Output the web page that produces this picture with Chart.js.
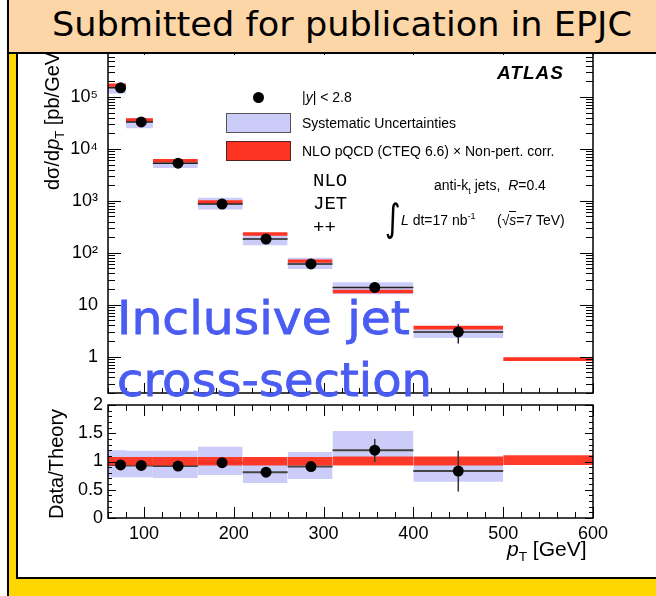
<!DOCTYPE html>
<html>
<head>
<meta charset="utf-8">
<script src="https://cdn.jsdelivr.net/npm/chart.js@4.4.0/dist/chart.umd.min.js"></script>
<style>
  html, body { margin: 0; padding: 0; }
  body { width: 656px; height: 596px; overflow: hidden; background: #ffd600;
         font-family: 'Liberation Sans', Arial, sans-serif; color: #000; }
  #page { position: relative; width: 656px; height: 596px; overflow: hidden; }
  #edge { position: absolute; left: 0; top: 0; width: 7px; height: 596px; background: #fff;
          border-right: 2px solid #000; }
  #panel { position: absolute; left: 16px; top: 48px; width: 660px; height: 527px;
           background: #fff; border: 2px solid #000; }
  #header { position: absolute; left: 7px; top: -2px; width: 660px; height: 52px;
            background: #fdd6a8; border: 2px solid #000; z-index: 5; }
  #header span { position: absolute; left: 43px; top: 4px; font-size: 34px; white-space: nowrap;
                 font-family: 'Comic Sans MS', 'DejaVu Sans', sans-serif; transform-origin: left center; }
  canvas { position: absolute; left: 0; z-index: 1; }
  #mainPlot { top: 0; }
  #ratioPlot { top: 396px; }
  .t { position: absolute; white-space: nowrap; z-index: 3; line-height: 1; }
  .t sub, .t sup { font-size: 65%; line-height: 0; }
  .leg { font-size: 14px; }
  .box { position: absolute; box-sizing: border-box; width: 65px; height: 20px; z-index: 3; }
  .dot { position: absolute; width: 11px; height: 11px; border-radius: 50%; background: #000; z-index: 3; }
  .mono { font-family: 'Liberation Mono', 'DejaVu Sans Mono', monospace; font-size: 19px; }
  .rot { position: absolute; left: 0; top: 0; white-space: nowrap; font-size: 20px; line-height: 1;
         transform-origin: 0 0; z-index: 3; }
  .blue { position: absolute; white-space: nowrap; z-index: 6; color: #4a5cf2; font-size: 46px;
          line-height: 1; font-family: 'Comic Sans MS', 'DejaVu Sans', sans-serif; transform-origin: left center;
          -webkit-text-stroke: 0.8px #4a5cf2; }
</style>
</head>
<body>
<div id="page">
  <div id="edge"></div>
  <div id="panel"></div>
  <div id="header"><span id="headText">Submitted for publication in EPJC</span></div>

  <canvas id="mainPlot" width="656" height="400"></canvas>
  <canvas id="ratioPlot" width="656" height="150"></canvas>

  <!-- legend -->
  <div class="dot" style="left:253px; top:92px;"></div>
  <div class="t leg" style="left:302px; top:90px;">|<i>y</i>| &lt; 2.8</div>
  <div class="box" style="left:226px; top:113px; background:#ccccf8; border:1px solid #555;"></div>
  <div class="t leg" style="left:302px; top:116px;">Systematic Uncertainties</div>
  <div class="box" style="left:226px; top:141px; background:#ff3322; border:1px solid #552222;"></div>
  <div class="t leg" style="left:302px; top:144px;">NLO pQCD (CTEQ 6.6) &times; Non-pert. corr.</div>

  <div class="t" style="left:497px; top:63px; font-size:19px; font-weight:bold; font-style:italic; letter-spacing:1px;">ATLAS</div>
  <div class="t mono" style="left:313px; top:172px;">NLO</div>
  <div class="t mono" style="left:313px; top:195px;">JET</div>
  <div class="t mono" style="left:313px; top:219px;">++</div>
  <div class="t leg" style="left:434px; top:178px;">anti-k<sub>t</sub> jets,&nbsp; <i>R</i>=0.4</div>
  <div class="t" style="left:383px; top:199px; font-size:38px; font-family:'DejaVu Sans', sans-serif; transform:scaleX(0.8);">&int;</div>
  <div class="t leg" style="left:401px; top:213px;"><i>L</i> dt=17 nb<sup>-1</sup></div>
  <div class="t leg" style="left:497px; top:213px;">(&radic;<i style="border-top:1px solid #000;">s</i>=7 TeV)</div>

  <!-- axis titles -->
  <div class="rot" style="transform: translate(42px, 190px) rotate(-90deg);">d&sigma;/d<i>p</i><sub style="font-size:65%;">T</sub> [pb/GeV]</div>
  <div class="rot" style="transform: translate(46px, 519px) rotate(-90deg);">Data/Theory</div>
  <div class="t" style="left:507px; top:538px; font-size:21px;"><i>p</i><sub>T</sub> [GeV]</div>

  <div class="blue" id="blue1" style="left:117px; top:295px;">Inclusive jet</div>
  <div class="blue" id="blue2" style="left:117px; top:357px;">cross-section</div>
</div>

<script>
// ── bins and measured values ──────────────────────────────────────────────────
const binEdges   = [60, 80, 110, 160, 210, 260, 310, 400, 500, 600];
const ptCentres  = [74, 97, 138, 187, 236, 286, 357, 450];

// dσ/dpT [pb/GeV]
const xsecData   = [1.5e5, 3.3e4, 5.3e3, 870, 184, 61, 21.5, 3.0];
const xsecStatHi = [1.56e5, 3.4e4, 5.45e3, 900, 192, 66, 25, 4.2];
const xsecStatLo = [1.44e5, 3.2e4, 5.15e3, 840, 176, 56, 18, 1.8];
const xsecSysHi  = [1.8e5, 3.9e4, 6.3e3, 1150, 240, 80, 27, 3.8];
const xsecSysLo  = [1.16e5, 2.5e4, 4.3e3, 680, 140, 49, 16, 2.3];
const nloXsec    = [1.68e5, 3.6e4, 5.9e3, 950, 229, 69, 17.8, 3.6, 0.88];

// data / theory
const ratioData   = [0.94, 0.93, 0.92, 0.98, 0.81, 0.91, 1.2, 0.83];
const ratioStatHi = [0.97, 0.96, 0.95, 1.01, 0.85, 0.98, 1.4, 1.19];
const ratioStatLo = [0.91, 0.90, 0.89, 0.95, 0.77, 0.84, 0.99, 0.47];
const ratioSysHi  = [1.2, 1.19, 1.19, 1.26, 1.07, 1.17, 1.54, 1.07];
const ratioSysLo  = [0.72, 0.72, 0.71, 0.76, 0.62, 0.69, 0.95, 0.64];
const nloBandHi   = [1.08, 1.08, 1.08, 1.08, 1.08, 1.08, 1.09, 1.09, 1.11];
const nloBandLo   = [0.93, 0.93, 0.93, 0.93, 0.93, 0.93, 0.93, 0.93, 0.94];

// tick labels
const logTickValues  = [1, 10, 100, 1e3, 1e4, 1e5];
const logTickLabels  = ['1', '10', '10²', '10³', '10⁴', '10⁵'];
const ratioTickValues = [0, 0.5, 1, 1.5, 2];
const ratioTickLabels = ['0', '0.5', '1', '1.5', '2'];
const ptTickValues   = [100, 200, 300, 400, 500, 600];
const ptTickLabels   = ['100', '200', '300', '400', '500', '600'];

const SYS_COLOR = '#ccccf8';
const NLO_COLOR = '#ff3322';

Chart.defaults.font.family = "'Liberation Sans', Arial, sans-serif";
Chart.defaults.color = '#000';

// ── helpers ───────────────────────────────────────────────────────────────────
// one filled box per bin, from lo to hi
function binBoxes(hi, lo, color, order) {
    return hi.map((h, i) => ({
        data: [{ x: binEdges[i], y: h }, { x: binEdges[i + 1], y: h }],
        fill: { value: lo[i] },
        backgroundColor: color,
        borderColor: 'rgba(0,0,0,0)',
        borderWidth: 0,
        pointRadius: 0,
        order
    }));
}

// horizontal bars across each bin, split by gaps
function binLines(values) {
    const pts = [];
    values.forEach((v, i) => {
        pts.push({ x: binEdges[i], y: v }, { x: binEdges[i + 1], y: v }, { x: binEdges[i + 1], y: null });
    });
    return pts;
}

// vertical error bars at the bin centres
function errLines(lo, hi) {
    const pts = [];
    ptCentres.forEach((x, i) => {
        pts.push({ x, y: lo[i] }, { x, y: hi[i] }, { x, y: null });
    });
    return pts;
}

function markers(values) {
    return values.map((v, i) => ({ x: ptCentres[i], y: v }));
}

// ROOT-like frame with inward ticks on all four sides
const frameTicks = {
    id: 'frameTicks',
    afterDraw(chart, args, o) {
        const { ctx, chartArea: a } = chart;
        const xs = chart.scales.x, ys = chart.scales.y;
        ctx.save();
        ctx.strokeStyle = '#000';
        ctx.lineWidth = 1;
        ctx.beginPath();
        const xt = (v, len) => {
            const p = Math.round(xs.getPixelForValue(v)) + 0.5;
            ctx.moveTo(p, a.bottom); ctx.lineTo(p, a.bottom - len);
            ctx.moveTo(p, a.top);    ctx.lineTo(p, a.top + len);
        };
        const yt = (v, len) => {
            const p = Math.round(ys.getPixelForValue(v)) + 0.5;
            ctx.moveTo(a.left, p);  ctx.lineTo(a.left + len, p);
            ctx.moveTo(a.right, p); ctx.lineTo(a.right - len, p);
        };
        o.xMinor.forEach(v => xt(v, o.xMinorLen));
        o.xMajor.forEach(v => xt(v, o.xMajorLen));
        o.yMinor.forEach(v => yt(v, o.yMinorLen));
        o.yMajor.forEach(v => yt(v, o.yMajorLen));
        ctx.stroke();
        ctx.lineWidth = 1.5;
        ctx.strokeRect(a.left, a.top, a.right - a.left, a.bottom - a.top);
        ctx.restore();
    }
};

// fixed-width y axis that asks for no extra room above or below
function fixedYAxis(s) {
    s.width = 108;
    s.paddingTop = 0;
    s.paddingBottom = 0;
}

// nudge the layout padding until the plot area sits where it should
function pinArea(chart, want) {
    const pad = chart.config.options.layout.padding;
    const a = chart.chartArea;
    pad.top += want.top - a.top;
    pad.bottom += a.bottom - want.bottom;
    pad.right += a.right - want.right;
    chart.update();
}

const ptMinor = [];
for (let v = 60; v <= 600; v += 20) if (v % 100) ptMinor.push(v);
const logMinor = [];
for (let d = 0.1; d < 1e6; d *= 10) for (let k = 2; k <= 9; k++) logMinor.push(k * d);
const ratioMinor = [];
for (let v = 0.1; v < 2; v += 0.1) ratioMinor.push(+v.toFixed(1));

const noGrid = { display: false, drawTicks: false };

// ── cross-section panel ──────────────────────────────────────────────────────
const mainChart = new Chart(document.getElementById('mainPlot'), {
    type: 'line',
    data: {
        datasets: [
            { data: markers(xsecData), showLine: false, pointRadius: 5.5,
              pointBackgroundColor: '#000', pointBorderWidth: 0, order: 0 },
            { data: errLines(xsecStatLo, xsecStatHi), borderColor: '#222', borderWidth: 1.5,
              pointRadius: 0, spanGaps: false, order: 1 },
            { data: binLines(xsecData), borderColor: '#222', borderWidth: 1.5,
              pointRadius: 0, spanGaps: false, order: 2 },
            ...binBoxes(nloXsec.map((v, i) => v * nloBandHi[i]), nloXsec.map((v, i) => v * nloBandLo[i]), NLO_COLOR, 3),
            ...binBoxes(xsecSysHi, xsecSysLo, SYS_COLOR, 4)
        ]
    },
    options: {
        responsive: false,
        animation: false,
        events: [],
        layout: { padding: { top: 45, right: 63, bottom: 7, left: 0 } },
        plugins: {
            legend: { display: false },
            tooltip: { enabled: false },
            frameTicks: {
                xMajor: ptTickValues, xMinor: ptMinor, xMajorLen: 10, xMinorLen: 5,
                yMajor: logTickValues, yMinor: logMinor, yMajorLen: 13, yMinorLen: 7
            }
        },
        scales: {
            x: { type: 'linear', min: 60, max: 600, display: false },
            y: {
                type: 'logarithmic', min: 0.2, max: 1e6,
                grid: noGrid, border: { display: false },
                afterFit: fixedYAxis,
                afterBuildTicks: s => { s.ticks = logTickValues.map(v => ({ value: v })); },
                ticks: { autoSkip: false, padding: 10, font: { size: 18 },
                         callback: (v, i) => logTickLabels[i] }
            }
        }
    },
    plugins: [frameTicks]
});
pinArea(mainChart, { top: 45, bottom: 393, right: 593 });

// ── data / theory panel ──────────────────────────────────────────────────────
const ratioChart = new Chart(document.getElementById('ratioPlot'), {
    type: 'line',
    data: {
        datasets: [
            { data: markers(ratioData), showLine: false, pointRadius: 5.5,
              pointBackgroundColor: '#000', pointBorderWidth: 0, order: 0 },
            { data: errLines(ratioStatLo, ratioStatHi), borderColor: '#333', borderWidth: 1.5,
              pointRadius: 0, spanGaps: false, order: 1 },
            ...binBoxes(nloBandHi, nloBandLo, 'rgba(255,45,25,0.93)', 2),
            { data: binLines(ratioData), borderColor: '#444', borderWidth: 2,
              pointRadius: 0, spanGaps: false, order: 3 },
            ...binBoxes(ratioSysHi, ratioSysLo, SYS_COLOR, 4)
        ]
    },
    options: {
        responsive: false,
        animation: false,
        events: [],
        layout: { padding: { top: 9, right: 63, bottom: 0, left: 0 } },
        plugins: {
            legend: { display: false },
            tooltip: { enabled: false },
            frameTicks: {
                xMajor: ptTickValues, xMinor: ptMinor, xMajorLen: 11, xMinorLen: 6,
                yMajor: ratioTickValues, yMinor: ratioMinor, yMajorLen: 8, yMinorLen: 4
            }
        },
        scales: {
            x: {
                type: 'linear', min: 60, max: 600,
                grid: noGrid, border: { display: false },
                afterFit: s => { s.height = 28; s.paddingLeft = 0; s.paddingRight = 0; },
                afterBuildTicks: s => { s.ticks = ptTickValues.map(v => ({ value: v })); },
                ticks: { autoSkip: false, maxRotation: 0, padding: 5, font: { size: 18 },
                         callback: (v, i) => ptTickLabels[i] }
            },
            y: {
                type: 'linear', min: 0, max: 2,
                grid: noGrid, border: { display: false },
                afterFit: fixedYAxis,
                afterBuildTicks: s => { s.ticks = ratioTickValues.map(v => ({ value: v })); },
                ticks: { autoSkip: false, padding: 5, font: { size: 18 },
                         callback: (v, i) => ratioTickLabels[i] }
            }
        }
    },
    plugins: [frameTicks]
});
pinArea(ratioChart, { top: 9, bottom: 122, right: 593 });

// stretch the hand-lettered captions to their widths
function stretchTo(el, w) {
    el.style.transform = 'scaleX(' + (w / el.getBoundingClientRect().width) + ')';
}
stretchTo(document.getElementById('headText'), 580);
stretchTo(document.getElementById('blue1'), 293);
stretchTo(document.getElementById('blue2'), 315);
</script>
</body>
</html>
